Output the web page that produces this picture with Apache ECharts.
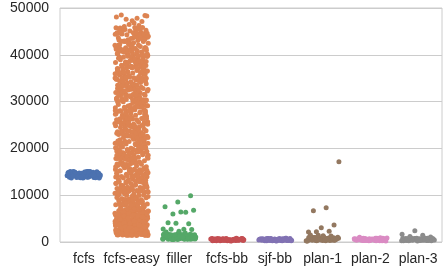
<!DOCTYPE html>
<html>
<head>
<meta charset="utf-8">
<script src="https://cdn.jsdelivr.net/npm/echarts@6/dist/echarts.min.js"></script>
<style>
  html, body { margin: 0; padding: 0; background: #fff; }
  #chart { width: 443px; height: 273px; }
</style>
</head>
<body>
<div id="chart"></div>
<script>
const categories = ['fcfs', 'fcfs-easy', 'filler', 'fcfs-bb', 'sjf-bb', 'plan-1', 'plan-2', 'plan-3']
const colors = ['#4c72b0', '#dd8452', '#55a868', '#c44e52', '#8172b3', '#937860', '#da8bc3', '#8c8c8c']
const yTicks = [0, 10000, 20000, 30000, 40000, 50000]

const fcfs = [14210, 13850, 14920, 14530, 13700, 15040, 14380, 13980, 14670, 14110, 15090, 13760, 14450, 14830, 13920, 14290, 15010, 14600, 13650, 14170, 14740, 14020, 13890, 14960, 14340, 14560, 13810, 15070, 14230, 14690, 13950, 14410, 14880, 13720, 14130, 14990, 14500, 14060, 13840, 14780, 14270, 14620, 13680, 15030, 14360, 13990, 14710, 14180, 14850, 13770, 14470, 14940, 14080, 14590, 13900, 14310, 15060, 14650, 13740, 14200, 14800, 14400, 13960, 14550, 14900, 14040, 14260, 13830, 14720, 15000]

const fcfsEasyLow = [3420, 1650, 5890, 2230, 6710, 4150, 1480, 5320, 2870, 6240, 3960, 1920, 4780, 6890, 2540, 5610, 3170, 1560, 4490, 6020, 2760, 5150, 3680, 1790, 6470, 4320, 2110, 5470, 3040, 6800, 1420, 4620, 2390, 5780, 3560, 6120, 1850, 4010, 2680, 6590, 5010, 3290, 1530, 4870, 6350, 2940, 5240, 3810, 2020, 6930, 1710, 4410, 5690, 2460, 3370, 6180, 1610, 5090, 4210, 2810, 6640, 3740, 1990, 5560, 4560, 2300, 6420, 3140, 1450, 5830, 4730, 2610, 6060, 3480, 1880, 5380, 4090, 2170, 6760, 3890, 1580, 5940, 4960, 2720, 6290, 3230, 1770, 5180, 4370, 2050, 6550, 3610, 1510, 5720, 4680, 2490, 6850, 3000, 1940, 5420, 4260, 2360, 6100, 3510, 1680, 5030, 4840, 2180, 6680, 3330, 1430, 5510, 4530, 2900, 6380, 3700, 1830, 5270, 4120, 2580, 6970, 3080, 1740, 5880, 4430, 2260, 6510, 3920, 1620, 5600, 4910, 2640, 6220, 3390, 1960, 5130, 4640, 2420, 6720, 3580, 1500, 5980,
  2080, 4570, 6330, 1370, 3850, 5460, 2930, 6790, 4240, 1640, 5770, 3150, 2470, 6060, 4820, 1860, 3530, 5290, 2710, 6490, 4050, 1550, 5950, 3300, 2240, 6880, 4470, 1980, 5640, 3760, 2820, 6270, 4900, 1460, 5080, 3440, 2560, 6610, 4180, 1730, 5350, 3020, 2130, 6960, 4710, 1910, 5820, 3650, 2670, 6150, 4340, 1400, 5520, 3190, 2330, 6700, 4600, 1810, 5060, 3870, 2990, 6400, 4020, 1590, 5700, 3260, 2190, 6830, 4790, 1670, 5200, 3980, 2770, 6560, 4380, 1440, 5910, 3600, 2520, 6010, 4480, 1760, 5400, 3100, 2400, 6920, 4160, 1890, 5650, 3780]

const fcfsEasyHigh = [
  7120, 8450, 9730, 7680, 9210, 8030, 7390, 9890, 8720, 7850, 9460, 8190, 7260, 9040, 8580, 7950, 9600, 8310, 7540, 9350, 8860, 7040, 9980, 8100, 7760, 9140, 8650, 7450, 9520, 8940,
  10240, 12630, 11180, 10870, 12950, 11560, 10430, 12210, 11790, 10060, 12480, 11340, 10690, 12820, 11950, 10320, 12070, 11480, 10950, 12560, 11020, 10580, 12340, 11700, 10150, 12890, 11260, 10790, 12150, 11870,
  13240, 15610, 14180, 13870, 15950, 14560, 13430, 15210, 14790, 13060, 15480, 14340, 13690, 15820, 14950, 13320, 15070, 14480, 13950, 15560, 14020, 13580, 15340, 14700, 13150, 15890, 14260, 13790, 15150, 14870,
  16140, 18530, 17280, 16770, 18850, 17460, 16330, 18110, 17690, 16060, 18380, 17040, 16590, 18720, 17850, 16220, 18970, 17380, 16850, 18460, 17120, 16480, 18240, 17600, 16920, 18640, 17930, 16680,
  19240, 21530, 20180, 19870, 21850, 20560, 19430, 21110, 20790, 19060, 21380, 20040, 19690, 21720, 20950, 19320, 21970, 20380, 19950, 21460, 20120, 19580, 21240, 20700, 19150, 21640, 20930, 19780,
  22340, 24630, 23180, 22870, 24950, 23560, 22430, 24210, 23790, 22060, 24480, 23340, 22690, 24820, 23950, 22320, 24070, 23480, 22950, 24560, 23020, 22580, 24340, 23700, 22150, 24890, 23260, 22790,
  25140, 27530, 26280, 25770, 27850, 26460, 25330, 27110, 26690, 25060, 27380, 26040, 25590, 27720, 26850, 25220, 27970, 26380, 25850, 27460, 26120, 25480, 27240, 26600, 25920, 27640, 26930, 25680,
  28240, 30530, 29180, 28870, 30850, 29560, 28430, 30110, 29790, 28060, 30380, 29040, 28690, 30720, 29950, 28320, 30970, 29380, 28950, 30460, 29120, 28580, 30240, 29700, 28150, 30640, 29930, 28780,
  31340, 33630, 32180, 31870, 33950, 32560, 31430, 33210, 32790, 31060, 33480, 32340, 31690, 33820, 32950, 31320, 33070, 32480, 31950, 33560, 32020, 31580, 33340, 32700, 31150, 33890, 32260, 31790,
  34140, 36530, 35280, 34770, 36850, 35460, 34330, 36110, 35690, 34060, 36380, 35040, 34590, 36720, 35850, 34220, 36970, 35380, 34850, 36460, 35120, 34480, 36240, 35600, 34920, 36640, 35930, 34680,
  37240, 39530, 38180, 37870, 39850, 38560, 37430, 39110, 38790, 37060, 39380, 38040, 37690, 39720, 38950, 37320, 39970, 38380, 37950, 39460, 38120, 37580, 39240, 38700, 37150, 39640, 38930, 37780,
  40340, 42630, 41180, 40870, 42950, 41560, 40430, 42210, 41790, 40060, 42480, 41340, 40690, 42820, 41950, 40320, 42070, 41480, 40950, 42560, 41020, 40580, 42340, 41700, 40150, 42890, 41260, 40790,
  43140, 45530, 44280, 43770, 45850, 44460, 43330, 45110, 44690, 43060, 45380, 44040, 43590, 45720, 44850, 43220, 44380, 43850, 45260, 44120, 43480, 44600,
  46250, 47600, 48300, 46800, 48500, 47100, 46500, 48100, 47800, 46050, 48400, 47300,
  8240, 11630, 14180, 17870, 20950, 23560, 26430, 29210, 32790, 35060, 38480, 41340, 44690, 7820, 10950, 13320, 16070, 19480, 22950, 25560, 28020, 31580, 34340, 37700, 40150, 43890, 9260, 12790,
  15140, 18530, 21280, 24770, 27850, 30460, 33330, 36110, 39690, 42060, 45380, 8040, 11590, 14720, 17850, 20220, 23970, 26380, 29850, 32460, 35120, 38480, 41240, 44600, 7920, 10640, 13930, 16680,
  19340, 22630, 25180, 28870, 31950, 34560, 37430, 40210, 43790, 9060, 12480, 15340, 18690, 21820, 24950, 27320, 30070, 33480, 36950, 39560, 42020, 45580, 8340, 11700, 14150, 17890, 20260, 23790,
  26140, 29530, 32280, 35770, 38850, 41460, 44330, 7110, 10690, 13060, 16380, 19040, 22590, 25720, 28850, 31220, 34970, 37380, 40850, 43460, 9120, 12480, 15240, 18600, 21920, 24640, 27930, 30680,
  33240, 36530, 39180, 42870, 45850, 8560, 11430, 14110, 17790, 20060, 23480, 26340, 29690, 32820, 35950, 38320, 41070, 44480, 7950, 10560, 13020, 16580, 19340, 22700, 25150, 28890, 31260, 34790,
  37140, 40530, 43280, 9770, 12850, 15460, 18330, 21110, 24690, 27060, 30380, 33040, 36590, 39720, 42850, 45220, 8970, 11380, 14850, 17460, 20120, 23240, 26600, 29920, 32640, 35930, 38680,
  41240, 44630, 7180, 10870, 13950, 16560, 19430, 22210, 25790, 28060, 31480, 34340, 37690, 40820, 43950, 9320, 12070, 15480, 18950, 21560, 24020, 27580, 30340, 33700, 36150, 39890, 42260, 45790,
  8140, 11530, 14280, 17770, 20850, 23460, 26330, 29110, 32690, 35060, 38380, 41040, 44590, 7720, 10850, 13220, 16970, 19380, 22850, 25460, 28120, 31480, 34240, 37600, 40920, 43640, 9930, 12680,
  15340, 18630, 21180, 24870, 27950, 30560, 33430, 36210, 39790, 42160, 45480, 8440, 11690, 14820, 17950, 20320, 23070, 26480, 29950, 32560, 35220, 38580, 41340, 44700, 7150, 10790, 13890, 16780
]

const filler = [620, 1340, 880, 1510, 740, 1120, 560, 1420, 960, 1250, 680, 1580, 1030, 810, 1380, 590, 1190, 920, 1470, 710, 1060, 1300, 640, 1550, 850, 1160, 1400, 770, 990, 1270, 530, 1450, 900, 1210, 660, 1350, 1080, 820, 1530, 600, 1140, 940, 1490, 730, 1230, 1020, 570, 1320, 870, 1600, 690, 1100, 1440, 790, 1280, 950, 1500, 650, 1180, 1040, 1650, 1720, 1800, 1900,
  580, 1210, 790, 1460, 950, 1330, 690, 1560, 870, 1090, 760, 1400, 1150, 540, 1260, 980, 1620, 720, 1050, 1370, 610, 1480, 830, 1170, 1290, 670, 1520, 910, 1010, 1430,
  9900, 8550, 7550, 6340, 5980, 6770, 6410, 4130, 3920, 4000, 2780, 2710, 2710, 2650, 2300, 2150]

const fcfsBb = [320, 590, 420, 690, 260, 510, 630, 350, 750, 460, 290, 560, 390, 660, 330, 720, 490, 230, 540, 440, 670, 300, 610, 370, 730, 480, 270, 570, 410, 640, 340, 700, 530, 250, 600, 450, 660, 310, 500, 740, 380, 620, 280, 540, 440, 680, 350, 480, 780, 400, 630, 290, 560, 470, 710]

const sjfBb = [380, 650, 280, 540, 740, 330, 480, 680, 250, 590, 420, 770, 320, 520, 650, 360, 710, 260, 570, 460, 790, 300, 620, 400, 720, 500, 230, 560, 660, 350, 440, 750, 290, 530, 640, 380, 700, 320, 500, 600, 260, 800, 430, 580, 340, 690, 470, 270, 630, 410, 750, 350, 530, 670, 310]

const plan1 = [360, 690, 950, 490, 290, 830, 590, 1040, 420, 750, 240, 650, 900, 530, 340, 990, 620, 440, 790, 270, 720, 930, 500, 390, 860, 310, 670, 1070, 560, 460, 810, 260, 740, 970, 420, 600, 890, 320, 540, 1020, 710, 380, 770, 480, 230, 650, 920, 580, 1350, 1500, 1280, 1420,
  17150, 7330, 6690, 3630, 3060, 2140, 2290, 2200]

const plan2 = [420, 710, 290, 540, 790, 340, 620, 470, 760, 260, 580, 680, 380, 510, 820, 310, 650, 440, 730, 240, 560, 780, 360, 490, 660, 290, 800, 410, 610, 530, 720, 320, 840, 450, 590, 270, 690, 390, 750, 500, 350, 640, 1000, 930, 430, 560, 800, 300, 670, 470]

const plan3 = [350, 620, 460, 740, 260, 540, 800, 410, 670, 320, 500, 760, 290, 590, 420, 710, 240, 530, 820, 370, 640, 470, 720, 300, 560, 780, 400, 660, 280, 500, 750, 340, 610, 440, 690, 260, 550, 810, 380, 650, 480, 730, 310, 590, 790, 2420, 1640, 1430, 1150, 1050]

const groups = [fcfs, fcfsEasyLow.concat(fcfsEasyHigh), filler, fcfsBb, sjfBb, plan1, plan2, plan3]

// strip jitter: deterministic spread across the category slot
function jitter(i, c) {
  const f = (i * 0.6180339887 + c * 0.37) % 1
  return (f - 0.5) * 0.7
}

const chart = echarts.init(document.getElementById('chart'), null, { renderer: 'canvas' })

chart.setOption({
  animation: false,
  backgroundColor: '#ffffff',
  textStyle: { fontFamily: 'Liberation Sans, Arial, sans-serif' },
  grid: {
    left: 60, right: 1, top: 8, bottom: 31,
    show: true, borderColor: '#cccccc', borderWidth: 1
  },
  xAxis: [
    {
      type: 'category',
      data: categories,
      axisLine: { show: false },
      axisTick: { show: false },
      splitLine: { show: false },
      axisLabel: { color: '#262626', fontSize: 14, margin: 10, interval: 0 }
    },
    { type: 'value', min: -0.5, max: 7.5, show: false }
  ],
  yAxis: {
    type: 'value',
    min: yTicks[0],
    max: yTicks[yTicks.length - 1],
    interval: 10000,
    axisLine: { show: false },
    axisTick: { show: false },
    splitLine: { lineStyle: { color: '#cccccc', width: 1 } },
    axisLabel: { color: '#262626', fontSize: 14, margin: 11, formatter: (v) => String(v) }
  },
  series: groups.map((vals, c) => ({
    type: 'scatter',
    xAxisIndex: 1,
    symbolSize: 5,
    itemStyle: { color: colors[c], opacity: 1 },
    data: vals.map((v, i) => [c + jitter(i, c), v])
  }))
})
</script>
</body>
</html>
